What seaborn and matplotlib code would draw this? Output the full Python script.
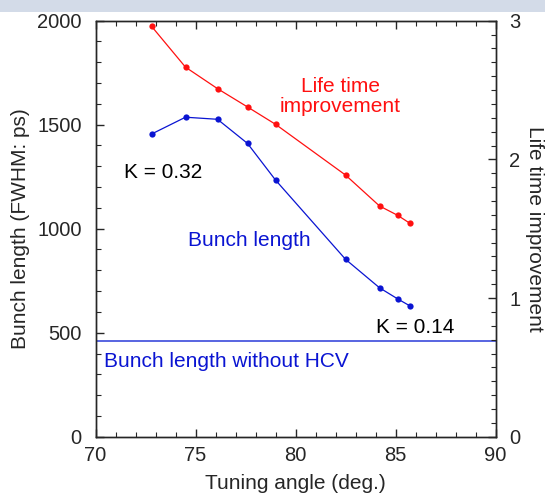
import numpy as np
import pandas as pd
import matplotlib
matplotlib.use("Agg")
import matplotlib.pyplot as plt
from matplotlib.ticker import MultipleLocator
from matplotlib.patches import Rectangle
import seaborn as sns

# ---- data ----
tuning_angle = [72.8, 74.5, 76.1, 77.6, 79.0, 82.5, 84.2, 85.1, 85.7]
bunch_length = [1455, 1536, 1526, 1410, 1234, 853, 716, 663, 630]
life_time_improvement = [2.96, 2.665, 2.51, 2.378, 2.253, 1.887, 1.664, 1.597, 1.541]
bunch_length_without_hcv = 458

sns.set_style("ticks")
plt.rcParams['font.family'] = ['Liberation Sans', 'DejaVu Sans']
FS = 15
TFS = 14.5

df = pd.DataFrame({"angle": tuning_angle, "bl": bunch_length, "lt": life_time_improvement})

fig = plt.figure(figsize=(5.45, 4.97), dpi=100)
fig.patches.append(Rectangle((0, 1 - 12 / 497), 1, 12 / 497, transform=fig.transFigure,
                             facecolor="#d3dbe8", edgecolor="none", zorder=0))
ax = fig.add_axes([95.5 / 545, 1 - 436.7 / 497, 400 / 545, 416 / 497])
ax2 = ax.twinx()

sns.lineplot(data=df, x="angle", y="bl", ax=ax, color="#0a14d2", marker="o",
             markersize=4.5, markeredgewidth=0, linewidth=0.9)
sns.lineplot(data=df, x="angle", y="lt", ax=ax2, color="#ff1010", marker="o",
             markersize=4.5, markeredgewidth=0, linewidth=0.9)
ax.axhline(bunch_length_without_hcv, color="#2a3ad8", linewidth=1.1)

ax.set_xlim(70, 90)
ax.set_ylim(0, 2000)
ax2.set_ylim(0, 3)

ax.xaxis.set_major_locator(MultipleLocator(5))
ax.xaxis.set_minor_locator(MultipleLocator(1))
ax.yaxis.set_major_locator(MultipleLocator(500))
ax.yaxis.set_minor_locator(MultipleLocator(100))
ax2.yaxis.set_major_locator(MultipleLocator(1))
ax2.yaxis.set_minor_locator(MultipleLocator(0.1))

ax.tick_params(axis="x", which="both", direction="in", top=True, bottom=True,
               labelsize=TFS, pad=7)
ax.tick_params(axis="y", which="both", direction="in", left=True, right=False,
               labelsize=TFS, pad=10)
ax2.tick_params(axis="y", which="both", direction="in", right=True, left=False,
                labelsize=TFS, pad=10)
for a in (ax, ax2):
    a.tick_params(which="major", length=6, width=1)
    a.tick_params(which="minor", length=3.5, width=0.8)
    for s in a.spines.values():
        s.set_linewidth(1.0)
        s.set_visible(True)

ax.set_xlabel("Tuning angle (deg.)", fontsize=FS, labelpad=6)
ax.set_ylabel("Bunch length (FWHM: ps)", fontsize=FS, labelpad=5)
ax2.set_ylabel("Life time improvement", fontsize=FS, rotation=270, labelpad=17)

ax.text(82.25, 1635, "Life time\nimprovement", color="#ff1010", fontsize=FS,
        ha="center", va="center", linespacing=1.1)
ax.text(71.4, 1268, "K = 0.32", color="black", fontsize=FS, ha="left", va="center")
ax.text(74.6, 945, "Bunch length", color="#0a14d2", fontsize=FS, ha="left", va="center")
ax.text(84.0, 527, "K = 0.14", color="black", fontsize=FS, ha="left", va="center")
ax.text(70.4, 363, "Bunch length without HCV", color="#0a14d2", fontsize=FS,
        ha="left", va="center")

fig.savefig("out.png", dpi=100)
